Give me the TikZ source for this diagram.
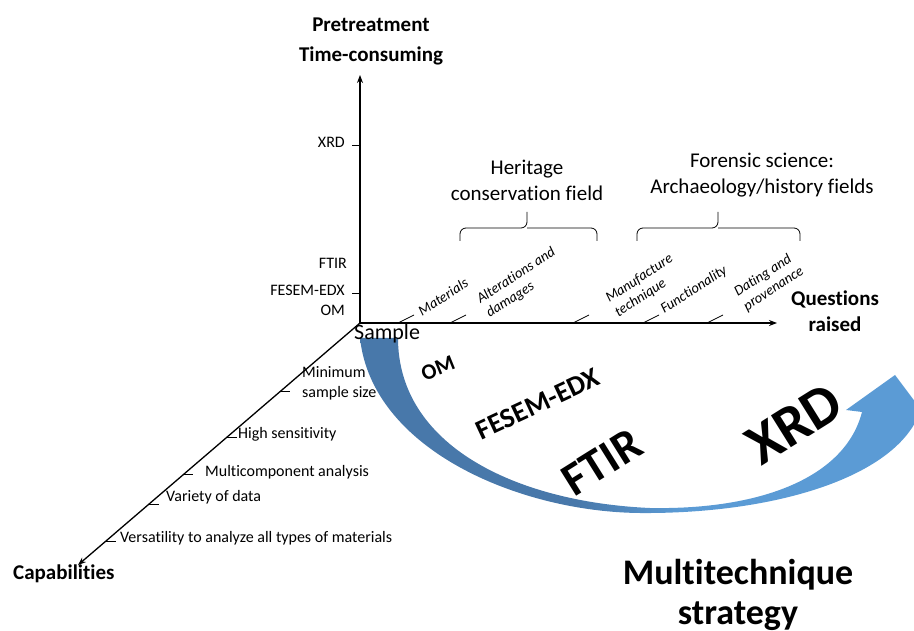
\documentclass[tikz,border=0pt]{standalone}
\usepackage{fontspec}
\setmainfont{Carlito}[RawFeature={-liga;-clig;-dlig;-rlig;-calt}]
\usetikzlibrary{arrows.meta,calc}
\definecolor{arcdark}{RGB}{72,120,170}
\definecolor{arclight}{RGB}{91,155,213}
\pgfdeclarehorizontalshading{arcshade}{100bp}{color(0bp)=(arcdark); color(44bp)=(arcdark); color(53bp)=(arclight); color(100bp)=(arclight)}
\tikzset{
  axisline/.style={line width=1.3pt, -{Stealth[length=8pt,width=6pt]}},
  tickmark/.style={line width=0.7pt},
  vlabel/.style={font=\fontsize{16}{19}\selectfont, anchor=mid east, inner sep=0pt},
  caplabel/.style={font=\fontsize{16}{20}\selectfont, anchor=mid west, inner sep=0pt, align=left},
  qlabel/.style={font=\itshape\fontsize{14.5}{17}\selectfont, rotate=33, inner sep=0pt, align=left},
  title/.style={font=\bfseries\fontsize{21}{30}\selectfont, inner sep=0pt, align=center},
  field/.style={font=\fontsize{21}{26}\selectfont, inner sep=0pt, align=center},
  techlabel/.style={font=\bfseries, inner sep=0pt},
  bracket/.style={line width=0.8pt, rounded corners=6pt}
}
\begin{document}
\begin{tikzpicture}[x=1pt,y=-1pt]
\useasboundingbox (0,0) rectangle (914,631);

% curved multitechnique arrow
\shade[shading=arcshade] (360,338) .. controls (372,450) and (520,512) .. (640,513)
  .. controls (770,514) and (885,480) .. (916,421)
  -- (931,423) -- (895,375) -- (846,410) -- (862,412)
  .. controls (845,478) and (760,510) .. (650,508)
  .. controls (515,502) and (398,445) .. (398,338) -- cycle;

% axes
\coordinate (O) at (360,323);
\coordinate (ytop) at (360,75);
\coordinate (xend) at (777,323);
\coordinate (zend) at (78,565);
\draw[axisline] (O) -- (ytop);
\draw[axisline] (O) -- (xend);
\draw[axisline] (O) -- (zend);

% axis titles
\node[title] (pre) at (371,41) {Pretreatment\\Time-consuming};
\node[title, font=\bfseries\fontsize{21}{26}\selectfont] (quest) at (835,311) {Questions\\raised};
\node[title, anchor=mid west] (capab) at (13,577) {Capabilities};
\node[font=\fontsize{22}{24}\selectfont, inner sep=0pt, anchor=base west] (sample) at (354,340) {Sample};

% pretreatment axis
\draw[tickmark] (352,145) -- (360,145);
\draw[tickmark] (352,293) -- (360,293);
\node[vlabel] (vxrd) at (345,145) {XRD};
\node[vlabel] (vftir) at (347,266) {FTIR};
\node[vlabel] (vfesem) at (345,293) {FESEM-EDX};
\node[vlabel] (vom) at (345,313) {OM};

% questions axis
\foreach \tx in {398,450,573,643,707}
  \draw[tickmark] (\tx,323) -- ++(16,-8);
\node[qlabel] (qmat) at (443,297) {Materials};
\node[qlabel] (qalt) at (521,283) {Alterations and\\damages};
\node[qlabel] (qman) at (644,286) {Manufacture\\technique};
\node[qlabel] (qfun) at (694,290) {Functionality};
\node[qlabel] (qdat) at (769,282) {Dating and\\provenance};

% fields
\draw[bracket] (460,241) -- (460,228) -- (527,228) -- (527,212);
\draw[bracket] (597,241) -- (597,228) -- (527,228);
\draw[bracket] (637,241) -- (637,228) -- (718,228) -- (718,212);
\draw[bracket] (800,241) -- (800,228) -- (718,228);
\node[field] (heritage) at (527,180) {Heritage\\conservation field};
\node[field] (forensic) at (762,175) {Forensic science:\\Archaeology/history fields};

% capabilities axis
\foreach \t in {0.284,0.473,0.626,0.749,0.901}
  \draw[tickmark] ($(O)!\t!(zend)$) -- ++(10,0);
\node[caplabel] (cmin) at (302,395) {Minimum\\sample size};
\node[caplabel] (csens) at (238,436) {High sensitivity};
\node[caplabel] (cmulti) at (205,474) {Multicomponent analysis};
\node[caplabel] (cvar) at (166,499) {Variety of data};
\node[caplabel] (cvers) at (120,540) {Versatility to analyze all types of materials};

% techniques along the arrow
\node[techlabel, font=\bfseries\fontsize{22}{24}\selectfont, rotate=22] (tom) at (438,368) {OM};
\node[techlabel, font=\bfseries\fontsize{28}{30}\selectfont, rotate=25] (tfesem) at (538,404) {FESEM-EDX};
\node[techlabel, font=\bfseries\fontsize{47}{48}\selectfont, rotate=32] (tftir) at (602,462) {FTIR};
\node[techlabel, font=\bfseries\fontsize{58}{60}\selectfont, rotate=32] (txrd) at (794,424) {XRD};

% strategy caption
\node[font=\bfseries\fontsize{36}{40}\selectfont, inner sep=0pt, align=center] (strategy) at (738,595) {Multitechnique\\strategy};
\end{tikzpicture}
\end{document}
